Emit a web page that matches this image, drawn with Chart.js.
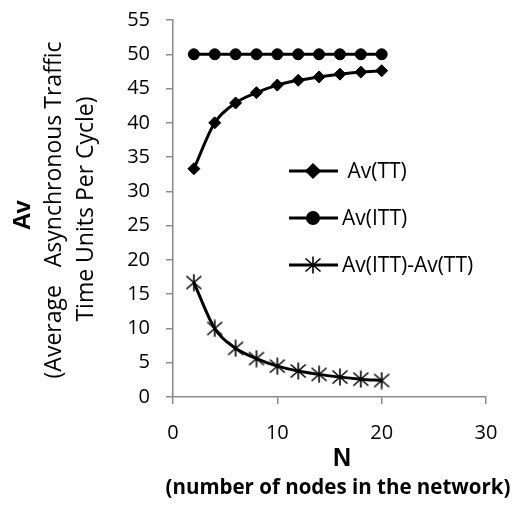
<!DOCTYPE html>
<html>
<head>
<meta charset="utf-8">
<script src="https://cdn.jsdelivr.net/npm/chart.js@4"></script>
<style>
  html, body { margin: 0; padding: 0; background: #fff; }
  #wrap { width: 513px; height: 506px; }
</style>
</head>
<body>
<div id="wrap"><canvas id="grafico" width="513" height="506"></canvas></div>
<script>
// valores
const nos = [2, 4, 6, 8, 10, 12, 14, 16, 18, 20];
const avTT = [33.3, 40.0, 42.9, 44.4, 45.5, 46.2, 46.7, 47.1, 47.4, 47.6];
const avITT = [50, 50, 50, 50, 50, 50, 50, 50, 50, 50];
const avDiff = [16.7, 10.0, 7.1, 5.6, 4.5, 3.8, 3.3, 2.9, 2.6, 2.4];
const nomes = [' Av(TT)', 'Av(ITT)', 'Av(ITT)-Av(TT)'];

const fonteBase = '"Open Sans", Lato, sans-serif';

// asterisco estilo excel: X com traco vertical
function criarEstrela() {
  const c = document.createElement('canvas');
  c.width = 18;
  c.height = 18;
  const g = c.getContext('2d');
  g.strokeStyle = '#000';
  g.lineWidth = 1.6;
  g.beginPath();
  g.moveTo(1.5, 2.5); g.lineTo(16.5, 15.5);
  g.moveTo(16.5, 2.5); g.lineTo(1.5, 15.5);
  g.moveTo(9, 0.5); g.lineTo(9, 17.5);
  g.stroke();
  return c;
}
const estrela = criarEstrela();

const marcadores = ['rectRot', 'circle', estrela];
const raios = [6, 5.5, 9];

function pontos(ys) {
  return nos.map((x, i) => ({ x: x, y: ys[i] }));
}

function serie(i, ys) {
  return {
    label: nomes[i],
    data: pontos(ys),
    borderColor: '#000',
    backgroundColor: '#000',
    borderWidth: 3,
    pointStyle: marcadores[i],
    pointRadius: raios[i],
    pointBorderColor: '#000',
    pointBackgroundColor: '#000',
    pointBorderWidth: 1,
    tension: 0.4,
    cubicInterpolationMode: 'monotone'
  };
}

// titulos dos eixos e legenda desenhados a mao
const extras = {
  id: 'extras',
  afterDraw(chart) {
    const ctx = chart.ctx;
    ctx.save();
    ctx.fillStyle = '#000';
    ctx.textAlign = 'center';
    ctx.textBaseline = 'middle';

    ctx.save();
    ctx.translate(23, 215);
    ctx.rotate(-Math.PI / 2);
    ctx.font = 'bold 24px "Liberation Sans", Arial, sans-serif';
    ctx.fillText('Av', 0, 0);
    ctx.restore();

    ctx.font = '23px ' + fonteBase;
    ctx.save();
    ctx.translate(54, 210);
    ctx.rotate(-Math.PI / 2);
    ctx.fillText('(Average   Asynchronous Traffic', 0, 0);
    ctx.restore();

    ctx.save();
    ctx.translate(86, 209);
    ctx.rotate(-Math.PI / 2);
    ctx.fillText('Time Units Per Cycle)', 0, 0);
    ctx.restore();

    ctx.font = 'bold 25px "Liberation Sans", Arial, sans-serif';
    ctx.fillText('N', 342, 459);
    ctx.font = 'bold 20.5px ' + fonteBase;
    ctx.fillText('(number of nodes in the network)', 338, 488);

    // legenda
    const ys = [171, 218, 265];
    ctx.textAlign = 'left';
    ctx.font = '21px ' + fonteBase;
    chart.data.datasets.forEach((ds, i) => {
      const y = ys[i];
      ctx.beginPath();
      ctx.strokeStyle = '#000';
      ctx.lineWidth = 3;
      ctx.moveTo(289, y);
      ctx.lineTo(338, y);
      ctx.stroke();
      Chart.helpers.drawPoint(ctx, {
        pointStyle: ds.pointStyle,
        radius: ds.pointRadius,
        borderWidth: ds.pointBorderWidth
      }, 313, y);
      ctx.fillText(ds.label, 342, y + 1);
    });
    ctx.restore();
  }
};

const grafico = new Chart(document.getElementById('grafico').getContext('2d'), {
  type: 'line',
  data: {
    datasets: [serie(0, avTT), serie(1, avITT), serie(2, avDiff)]
  },
  options: {
    responsive: false,
    animation: false,
    layout: { padding: { left: 0, right: 27, top: 20, bottom: 0 } },
    plugins: {
      legend: { display: false },
      tooltip: { enabled: false }
    },
    scales: {
      x: {
        type: 'linear',
        min: 0,
        max: 30,
        ticks: { stepSize: 10, color: '#000', font: { size: 20, family: fonteBase }, padding: 17 },
        grid: { display: true, drawOnChartArea: false, drawTicks: true, tickLength: 7, color: '#8c8c8c', lineWidth: 1.5 },
        border: { color: '#8c8c8c', width: 1.5 },
        afterFit(scale) {
          scale.height = 109;
          scale.paddingLeft = 0;
          scale.paddingRight = 0;
        }
      },
      y: {
        min: 0,
        max: 55,
        ticks: { stepSize: 5, color: '#000', font: { size: 20, family: fonteBase }, padding: 16 },
        grid: { display: true, drawOnChartArea: false, drawTicks: true, tickLength: 7, color: '#8c8c8c', lineWidth: 1.5 },
        border: { color: '#8c8c8c', width: 1.5 },
        afterFit(scale) {
          scale.width = 173;
          scale.paddingTop = 0;
          scale.paddingBottom = 0;
        }
      }
    }
  },
  plugins: [extras]
});
</script>
</body>
</html>
